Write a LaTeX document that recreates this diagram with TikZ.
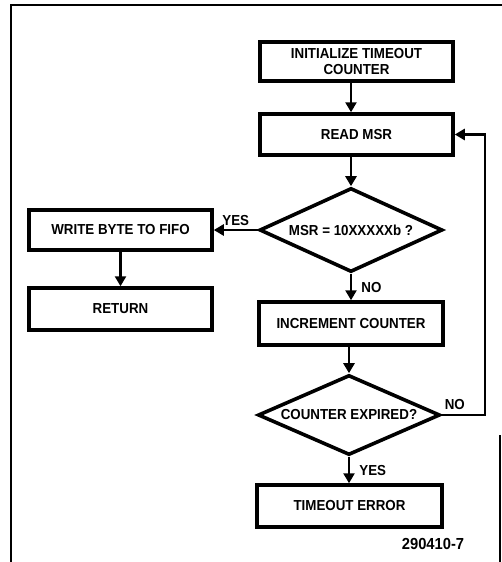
\documentclass[tikz,border=0pt]{standalone}
\usepackage{fontspec}
\setmainfont{Liberation Sans}
\newfontfamily\boxfont{Liberation Sans}[FakeStretch=0.92]
\usepackage{tikz}
\usetikzlibrary{arrows.meta}
\usetikzlibrary{shapes.geometric}
\begin{document}
\begin{tikzpicture}[x=1pt,y=-1pt,
  box/.style={draw,line width=3.5pt,minimum width=183pt,minimum height=41pt,inner sep=0pt,align=center,font=\boxfont\bfseries\fontsize{14.5}{16}\selectfont},
  test/.style={draw,diamond,line width=3.6pt,aspect=2.2,inner sep=0pt,font=\boxfont\bfseries\fontsize{14.5}{16}\selectfont},
  lbl/.style={font=\boxfont\bfseries\fontsize{14.5}{16}\selectfont,inner sep=0pt},
  arr/.style={-{Triangle[length=10pt,width=11pt]},line width=2.8pt}]
\useasboundingbox (0,0) rectangle (502,562);
\draw[line width=2pt] (11,562) -- (11,5) -- (502,5);
\draw[line width=2pt] (500,435) -- (500,562);
\node[box,minimum width=193pt,minimum height=39pt] (init) at (356.5,61.5) {INITIALIZE TIMEOUT\\COUNTER};
\node[box,minimum width=193pt] (read) at (356.5,134.5) {READ MSR};
\node[test,minimum width=183pt,minimum height=84pt] (msr) at (351,230) {MSR = 10XXXXXb ?};
\node[box,minimum height=40pt] (write) at (120.5,230) {WRITE BYTE TO FIFO};
\node[box,minimum height=42pt] (ret) at (120.5,309) {RETURN};
\node[box,minimum width=184pt,minimum height=43pt] (incr) at (351,323.5) {INCREMENT COUNTER};
\node[test,minimum width=182pt,minimum height=80pt] (expd) at (349,415) {COUNTER EXPIRED?};
\node[box,minimum width=185pt,minimum height=42pt] (tmo) at (349.5,506) {TIMEOUT ERROR};
\coordinate (loop) at (485,0);
\draw[arr] (init.south -| msr.north) -- (read.north -| msr.north);
\draw[arr] (read.south -| msr.north) -- (msr.north);
\draw[arr] (msr.west) -- (write.east) node[lbl,midway,above=3pt] {YES};
\draw[arr] (write.south) -- (ret.north);
\draw[arr] (msr.south) -- (incr.north -| msr.south) node[lbl,midway,right=9pt] {NO};
\draw[arr] (incr.south -| expd.north) -- (expd.north);
\draw[arr] (expd.south) -- (tmo.north -| expd.south) node[lbl,midway,right=9pt] {YES};
\draw[arr] (expd.east) -- node[lbl,above=4pt,pos=0.3] {NO} (expd.east -| loop) |- (read.east);
\node[font=\boxfont\bfseries\fontsize{16}{18}\selectfont,inner sep=0pt] (fig) at (433,544) {290410-7};
\end{tikzpicture}
\end{document}
